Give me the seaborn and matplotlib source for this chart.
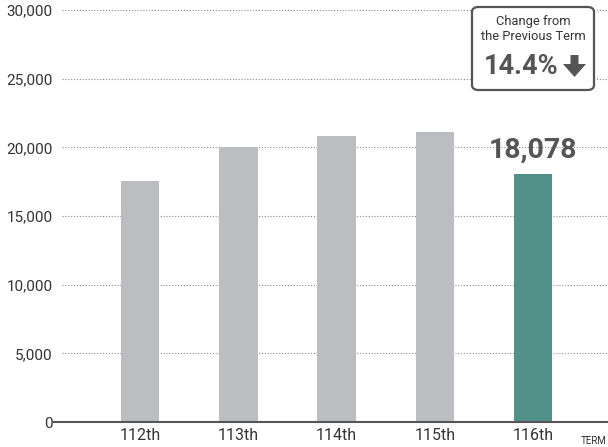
import matplotlib
matplotlib.use("Agg")
import matplotlib.pyplot as plt
import seaborn as sns
import pandas as pd
from matplotlib.patches import FancyBboxPatch, Polygon

terms = ["112th", "113th", "114th", "115th", "116th"]
values = [17520, 20010, 20820, 21100, 18078]
bar_colors = ["#bcbdc0", "#bcbdc0", "#bcbdc0", "#bcbdc0", "#52918a"]
yticks = [0, 5000, 10000, 15000, 20000, 25000, 30000]
ytick_labels = ["0", "5,000", "10,000", "15,000", "20,000", "25,000", "30,000"]
highlight_label = "18,078"
change_title = "Change from\nthe Previous Term"
change_value = "14.4%"

sns.set_theme(style="white")
plt.rcParams['font.family'] = ['Roboto', 'DejaVu Sans']

fig = plt.figure(figsize=(6.08, 4.47), dpi=100)
W, H = 608, 447
AX_L, AX_R, AX_T, AX_B = 54, 608, 10, 422
ax = fig.add_axes([AX_L / W, (H - AX_B) / H, (AX_R - AX_L) / W, (AX_B - AX_T) / H])

df = pd.DataFrame({"term": terms, "value": values})
sns.barplot(data=df, x="term", y="value", hue="term", palette=bar_colors,
            legend=False, width=0.39, ax=ax, saturation=1, linewidth=0)

ax.set_xlim(-0.875, 4.76)
ax.set_ylim(0, 30000)
ax.set_xlabel("")
ax.set_ylabel("")
for s in ["top", "right", "left"]:
    ax.spines[s].set_visible(False)
ax.spines["bottom"].set_color("#555555")
ax.spines["bottom"].set_linewidth(1.5)
ax.spines["bottom"].set_zorder(5)

# dotted gridlines
for yv in yticks[1:]:
    ax.plot([-0.79, 4.76], [yv, yv], linestyle=(0, (1, 1.6)), color="#8a8a8a",
            linewidth=0.8, zorder=0, clip_on=False)

ax.set_yticks(yticks)
ax.set_yticklabels(ytick_labels)
ax.tick_params(axis="y", length=0, pad=1, labelsize=11, labelcolor="#333333")
ax.tick_params(axis="x", length=0, pad=4, labelsize=11.5, labelcolor="#333333")

ax.text(4.48, -1050, "TERM", ha="left", va="top", fontsize=7, color="#333333",
        clip_on=False)

# highlight value label
ax.text(4, values[4] + 700, highlight_label, ha="center", va="bottom",
        fontsize=20.5, fontweight="bold", color="#555555")

# change box (pixel helpers in axes fraction)
def fx(px):
    return (px - AX_L) / (AX_R - AX_L)

def fy(py):
    return (AX_B - py) / (AX_B - AX_T)

box = FancyBboxPatch((fx(472), fy(90)), fx(594) - fx(472), fy(7) - fy(90),
                     boxstyle="round,pad=0,rounding_size=0.012",
                     transform=ax.transAxes, facecolor="white",
                     edgecolor="#555555", linewidth=1.6, clip_on=False, zorder=6)
ax.add_patch(box)
ax.text(fx(533), fy(29), change_title, transform=ax.transAxes, ha="center",
        va="center", fontsize=9.3, color="#333333", linespacing=1.15, zorder=7)
ax.text(fx(521), fy(66), change_value, transform=ax.transAxes,
        ha="center", va="center", fontsize=19.5, fontweight="bold",
        color="#555555", zorder=7)
arrow = Polygon([(fx(570.5), fy(55)), (fx(578.5), fy(55)), (fx(578.5), fy(64)),
                 (fx(586), fy(64)), (fx(574.5), fy(77)), (fx(563), fy(64)),
                 (fx(570.5), fy(64))],
                closed=True, transform=ax.transAxes, facecolor="#555555",
                edgecolor="none", clip_on=False, zorder=7)
ax.add_patch(arrow)

fig.savefig("out.png", dpi=100)
